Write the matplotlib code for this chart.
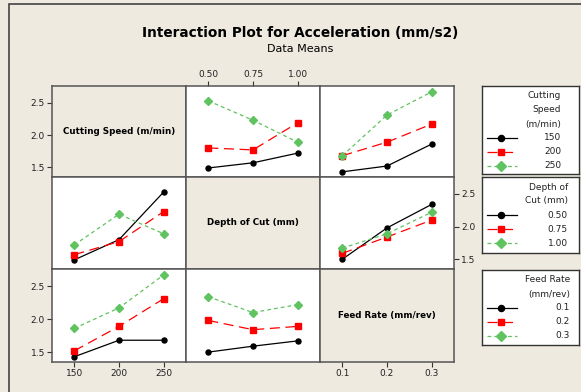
import matplotlib.pyplot as plt
from matplotlib.lines import Line2D
from matplotlib.patches import Rectangle

# factor names and levels
factor_names = ['Cutting Speed (m/min)', 'Depth of Cut (mm)', 'Feed Rate (mm/rev)']
legend_titles = ['Cutting\nSpeed\n(m/min)', 'Depth of\nCut (mm)', 'Feed Rate\n(mm/rev)']
levels = [[150, 200, 250], [0.50, 0.75, 1.00], [0.1, 0.2, 0.3]]
level_labels = [['150', '200', '250'], ['0.50', '0.75', '1.00'], ['0.1', '0.2', '0.3']]

# cell means (rows = levels of first factor, cols = levels of second factor)
cs_depth = [[1.49, 1.57, 1.72],
            [1.80, 1.77, 2.19],
            [2.53, 2.23, 1.89]]
cs_feed = [[1.43, 1.52, 1.86],
           [1.68, 1.89, 2.17],
           [1.68, 2.31, 2.67]]
depth_feed = [[1.50, 1.98, 2.34],
              [1.59, 1.84, 2.10],
              [1.67, 1.89, 2.22]]

means = {(0, 1): cs_depth, (0, 2): cs_feed, (1, 2): depth_feed}

bg = '#EEEAE0'
edge = '#555555'
styles = [dict(color='black', ls='-', marker='o', ms=3.6, lw=0.9),
          dict(color='#FF0000', ls=(0, (8, 4.5)), marker='s', ms=4.0, lw=0.9),
          dict(color='#5FC35F', ls=(0, (3, 2.5)), marker='D', ms=3.8, lw=0.9)]

W, H = 581, 392
fig = plt.figure(figsize=(W / 100, H / 100), dpi=100, facecolor=bg)
plt.rcParams['font.family'] = 'DejaVu Sans'


def box(x0, y0, x1, y1):
    return [x0 / W, 1 - y1 / H, (x1 - x0) / W, (y1 - y0) / H]


# outer frame
fig.patches.append(Rectangle((9 / W, -0.05), 1.2, 1 - 4 / H + 0.05, transform=fig.transFigure,
                             fill=False, edgecolor='#444444', lw=1.2))

fig.text(300 / W, 1 - 33 / H, 'Interaction Plot for Acceleration (mm/s2)',
         ha='center', va='center', fontsize=9.8, fontweight='bold')
fig.text(300 / W, 1 - 49 / H, 'Data Means', ha='center', va='center', fontsize=8)

xs = [52, 186, 320, 454]
ys = [86, 177, 269, 362]
ylim = (1.35, 2.76)
tick_kw = dict(length=3.5, width=0.8, color='#333333', labelsize=6.5, labelcolor='#222222', pad=1.5)

for r in range(3):
    for c in range(3):
        ax = fig.add_axes(box(xs[c], ys[r], xs[c + 1], ys[r + 1]))
        lv = levels[c]
        step = lv[1] - lv[0]
        ax.set_xlim(lv[0] - step / 2, lv[-1] + step / 2)
        ax.set_ylim(*ylim)
        for s in ax.spines.values():
            s.set_color(edge)
            s.set_linewidth(1.1)
        ax.set_xticks([])
        ax.set_yticks([])
        if r == c:
            ax.set_facecolor(bg)
            ax.text(0.5, 0.5, factor_names[r], transform=ax.transAxes, ha='center', va='center',
                    fontsize=6.3, fontweight='bold')
        else:
            ax.set_facecolor('white')
            tab = means[(r, c)] if r < c else [list(z) for z in zip(*means[(c, r)])]
            for i in range(3):
                ax.plot(lv, tab[i], **styles[i])
        # axis labels on the outside panels
        if (r, c) in [(0, 0), (2, 0)]:
            ax.set_yticks([1.5, 2.0, 2.5])
            ax.set_yticklabels(['1.5', '2.0', '2.5'])
            ax.tick_params(axis='y', **tick_kw)
        if (r, c) == (1, 2):
            ax.yaxis.tick_right()
            ax.set_yticks([1.5, 2.0, 2.5])
            ax.set_yticklabels(['1.5', '2.0', '2.5'])
            ax.tick_params(axis='y', **tick_kw)
        if (r, c) == (0, 1):
            ax.xaxis.tick_top()
            ax.set_xticks(lv)
            ax.set_xticklabels(level_labels[c])
            ax.tick_params(axis='x', **tick_kw)
        if (r, c) in [(2, 0), (2, 2)]:
            ax.set_xticks(lv)
            ax.set_xticklabels(level_labels[c])
            ax.tick_params(axis='x', **tick_kw)

# legend boxes
leg_boxes = [(482, 86, 579, 174), (482, 177, 579, 253), (482, 270, 579, 345)]
text_right = [79, 86, 88]
n_title_lines = [3, 2, 2]
for k, (x0, y0, x1, y1) in enumerate(leg_boxes):
    lax = fig.add_axes(box(x0, y0, x1, y1))
    lax.set_xlim(0, x1 - x0)
    lax.set_ylim(y1 - y0, 0)
    lax.set_facecolor('white')
    lax.set_xticks([])
    lax.set_yticks([])
    for s in lax.spines.values():
        s.set_color('#333333')
        s.set_linewidth(1.0)
    for j, line in enumerate(legend_titles[k].split('\n')):
        lax.text(text_right[k], 10 + 14 * j, line, ha='right', va='center', fontsize=6.5, color='#222222')
    for i in range(3):
        yy = 10 + 14 * (n_title_lines[k] + i)
        lax.add_line(Line2D([5, 35], [yy, yy], **{kk: v for kk, v in styles[i].items() if kk != 'marker'}))
        lax.plot([19], [yy], marker=styles[i]['marker'], color=styles[i]['color'], ms=styles[i]['ms'] + 0.8, ls='none')
        lax.text(text_right[k], yy, level_labels[k][i], ha='right', va='center', fontsize=6.5, color='#222222')

fig.savefig('out.png', dpi=100, facecolor=bg)
